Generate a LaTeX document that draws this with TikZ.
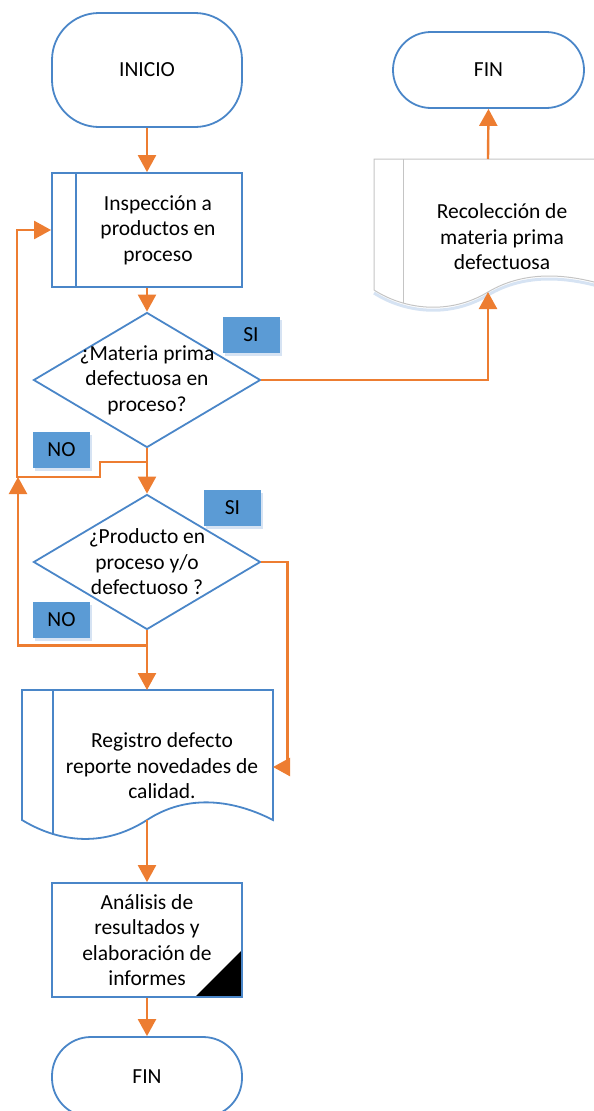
\documentclass[tikz,border=0pt]{standalone}
\usepackage{fontspec}
\setmainfont{Carlito}
\usetikzlibrary{shapes.geometric,arrows.meta,shadows}
\definecolor{bordeazul}{HTML}{4A86C8}
\definecolor{flecha}{HTML}{ED7D31}
\definecolor{etiqueta}{HTML}{5B9BD5}
\definecolor{sombra}{HTML}{D6E3F3}
\definecolor{gris}{HTML}{C4C4C4}
\tikzset{
  txt/.style={font=\fontsize{21.5}{25.5}\selectfont,align=center,text=black},
  caja/.style={draw=bordeazul,line width=1.8pt,minimum width=190pt,minimum height=114pt,inner sep=2pt,txt},
  terminal/.style={caja,rounded corners=#1},
  predef/.style={caja,path picture={\draw[bordeazul,line width=1.8pt] ([xshift=24pt]path picture bounding box.north west) -- ([xshift=24pt]path picture bounding box.south west);}},
  manual/.style={caja,path picture={\fill[black] (path picture bounding box.south east) -- ([xshift=-47pt]path picture bounding box.south east) -- ([yshift=47pt]path picture bounding box.south east) -- cycle;}},
  decision/.style={diamond,draw=bordeazul,line width=1.8pt,minimum width=227pt,minimum height=135pt,inner sep=0pt},
  sino/.style={fill=etiqueta,minimum width=57pt,minimum height=36pt,inner sep=0pt,txt,drop shadow={fill=sombra,opacity=1,shadow xshift=2pt,shadow yshift=-3pt}},
  flow/.style={draw=flecha,line width=2.4pt,-{Triangle[length=17pt,width=18pt]}}
}

\begin{document}
\begin{tikzpicture}[x=1pt,y=-1pt]
  \useasboundingbox (0,0) rectangle (594,1111);
  \clip (0,0) rectangle (594,1111);

  \node[terminal=47pt] (ini) at (147,70) {INICIO};
  \node[predef,label={[txt,xshift=11pt]center:Inspección a\\productos en\\proceso}] (insp) at (147,230) {};
  \node[decision,label={[txt]center:¿Materia prima\\defectuosa en\\proceso?}] (d1) at (147,380) {};
  \node[decision,label={[txt]center:¿Producto en\\proceso y/o\\defectuoso ?}] (d2) at (147,562) {};
  \node[manual] (ana) at (147,940) {Análisis de\\resultados y\\elaboración de\\informes};
  \node[terminal=39pt,minimum height=80pt] (fin) at (147,1077) {FIN};
  \node[terminal=38pt,minimum width=191pt,minimum height=76pt] (fin2) at (488.5,70) {FIN};

  % documentos
  \draw[bordeazul,line width=1.8pt] (22,690) -- (273,690) -- (273,820)
    .. controls (230,798) and (185,795) .. (147,820)
    .. controls (100,850) and (55,840) .. (22,820) -- cycle;
  \draw[bordeazul,line width=1.8pt] (53,690) -- (53,835);
  \node[txt] (reg) at (162,766) {Registro defecto\\reporte novedades de\\calidad.};

  \draw[sombra,line width=3pt] (374,293) .. controls (405,313) and (450,318) .. (488,295)
    .. controls (525,273) and (570,275) .. (620,293);
  \draw[gris,line width=1pt] (374,159) -- (620,159) -- (620,290)
    .. controls (570,272) and (525,270) .. (488,292)
    .. controls (450,315) and (405,310) .. (374,290) -- cycle;
  \draw[gris,line width=1pt] (403,159) -- (403,303);
  \node[txt] (rec) at (502,237) {Recolección de\\materia prima\\defectuosa};

  \coordinate (no1) at (147,462);
  \coordinate (join) at (18,477);
  \coordinate (regtop) at (147,690);
  \coordinate (regin) at (273,767);
  \coordinate (regout) at (147,820);
  \coordinate (recin) at (488,292);
  \coordinate (rectop) at (488,159);

  \draw[flow] (ini.south) -- (insp.north);
  \draw[flow] (insp.south) -- (d1.north);
  \draw[flow] (d1.south) -- (d2.north);
  \draw[flow] (no1) -- ++(-47,0) -- ++(0,15) -| ([xshift=-34pt]insp.west) -- (insp.west);
  \draw[flow] (d2.south) -- ++(0,15) -| (join);
  \draw[flow] (d2.south) -- (regtop);
  \draw[flow] (d1.east) -| (recin);
  \draw[flow] (rectop) -- (fin2.south);
  \draw[flow] (d2.east) -- ++(26,0) |- (regin);
  \draw[flow] (regout) -- (ana.north);
  \draw[flow] (ana.south) -- (fin.north);

  \node[sino] (si1) at (251,335) {SI};
  \node[sino] (no1l) at (61.5,450) {NO};
  \node[sino] (si2) at (232.5,508) {SI};
  \node[sino] (no2l) at (61.5,620) {NO};
\end{tikzpicture}
\end{document}
